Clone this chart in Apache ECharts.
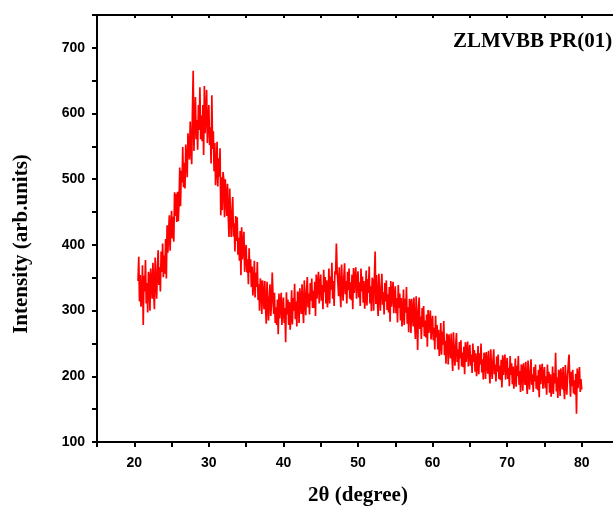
<!DOCTYPE html>
<html>
<head>
<meta charset="utf-8">
<script src="https://cdn.jsdelivr.net/npm/echarts@6/dist/echarts.min.js"></script>
<style>
  html, body { margin: 0; padding: 0; background: #fff; }
  #main { width: 613px; height: 507px; }
</style>
</head>
<body>
<div id="main"></div>
<script>
const chart = echarts.init(document.getElementById('main'))

const sampleName = 'ZLMVBB PR(01)'
const xTitle = '2θ (degree)'
const yTitle = 'Intensity (arb.units)'
// scan: 20.5 .. 80.0 deg, step 0.1 (one row per degree)
const scanStart = 20.5
const scanStep = 0.1
const intensity = [
  345, 382, 314, 354, 306,
  323, 369, 278, 353, 329, 377, 311, 342, 297, 359,
  353, 300, 364, 341, 318, 373, 329, 302, 381, 345,
  318, 363, 392, 339, 366, 329, 390, 359, 402, 351,
  384, 356, 409, 349, 430, 388, 418, 445, 391, 428,
  452, 410, 443, 405, 480, 444, 478, 435, 481, 436,
  466, 518, 459, 513, 495, 549, 488, 525, 486, 553,
  553, 503, 570, 550, 530, 588, 547, 523, 605, 665,
  543, 593, 625, 561, 590, 545, 613, 575, 640, 561,
  597, 558, 613, 537, 642, 570, 600, 636, 555, 590,
  613, 552, 579, 524, 628, 546, 573, 512, 555, 491,
  516, 557, 489, 532, 504, 547, 445, 503, 453, 511,
  500, 442, 500, 472, 444, 493, 444, 412, 486, 444,
  412, 450, 473, 413, 433, 390, 444, 406, 442, 385,
  411, 376, 421, 354, 427, 378, 401, 420, 359, 388,
  400, 358, 378, 340, 395, 358, 378, 336, 367, 323,
  340, 376, 320, 358, 336, 374, 316, 340, 300, 349,
  342, 295, 346, 324, 302, 345, 305, 280, 344, 310,
  285, 319, 340, 292, 311, 358, 324, 295, 327, 281,
  305, 278, 317, 264, 326, 288, 309, 327, 278, 304,
  320, 281, 304, 252, 328, 294, 317, 278, 313, 271,
  292, 331, 279, 319, 300, 341, 287, 314, 276, 329,
  325, 281, 334, 314, 295, 340, 303, 281, 346, 315,
  293, 329, 351, 305, 326, 294, 342, 315, 349, 304,
  330, 304, 344, 292, 355, 318, 340, 359, 311, 338,
  355, 315, 339, 302, 362, 328, 351, 311, 346, 305,
  325, 364, 311, 352, 332, 373, 318, 345, 307, 360,
  355, 402, 362, 342, 322, 366, 328, 305, 370, 338,
  315, 350, 372, 325, 345, 311, 359, 331, 364, 318,
  343, 316, 355, 302, 365, 327, 349, 366, 318, 343,
  360, 320, 343, 307, 364, 329, 352, 312, 345, 303,
  323, 361, 308, 348, 327, 367, 311, 337, 299, 350,
  345, 300, 351, 390, 310, 354, 315, 292, 356, 324,
  300, 335, 356, 309, 328, 294, 342, 314, 346, 301,
  325, 297, 336, 283, 345, 306, 327, 344, 296, 321,
  337, 296, 319, 282, 339, 304, 326, 285, 319, 276,
  295, 332, 278, 318, 297, 336, 280, 305, 267, 318,
  312, 266, 318, 297, 276, 320, 281, 257, 322, 289,
  240, 299, 320, 272, 291, 257, 304, 275, 307, 261,
  285, 259, 294, 245, 301, 266, 285, 300, 256, 278,
  292, 255, 274, 241, 292, 259, 278, 241, 271, 231,
  248, 281, 233, 268, 248, 284, 232, 254, 219, 265,
  260, 218, 264, 246, 227, 265, 230, 208, 267, 237,
  216, 246, 266, 222, 241, 210, 252, 227, 255, 215,
  236, 214, 245, 203, 252, 222, 240, 253, 215, 234,
  248, 216, 233, 205, 250, 222, 240, 207, 235, 200,
  216, 246, 203, 235, 218, 250, 206, 226, 195, 236,
  232, 196, 237, 221, 204, 239, 208, 189, 241, 214,
  196, 224, 241, 203, 218, 192, 230, 207, 233, 196,
  216, 194, 225, 183, 232, 202, 220, 233, 195, 214,
  228, 196, 213, 185, 231, 202, 220, 188, 215, 181,
  197, 227, 184, 216, 200, 231, 187, 208, 176, 218,
  214, 178, 220, 204, 187, 222, 191, 173, 224, 198,
  180, 208, 226, 187, 203, 176, 214, 192, 218, 181,
  201, 179, 210, 168, 218, 188, 206, 219, 181, 200,
  214, 182, 200, 172, 218, 190, 207, 175, 203, 169,
  185, 215, 173, 205, 189, 236, 177, 198, 167, 210,
  206, 170, 212, 196, 180, 214, 183, 165, 217, 191,
  172, 200, 218, 233, 195, 169, 207, 185, 210, 174,
  194, 172, 204, 143, 212, 182, 200, 214, 176, 196,
  180
]

let lineData = intensity.map((v, i) => [+(scanStart + i * scanStep).toFixed(1), v])

let axisLine = { lineStyle: { color: '#000', width: 2 } }
let tickStyle = { lineStyle: { color: '#000', width: 2 } }
let labelStyle = {
  color: '#000',
  fontFamily: 'Liberation Sans',
  fontWeight: 'bold',
  fontSize: 14
}

let option = {
  backgroundColor: '#fff',
  animation: false,
  grid: {
    left: 97,
    top: 15,
    width: 522,
    height: 427,
    outerBoundsMode: 'none',
    containLabel: false
  },
  xAxis: [
    {
      type: 'value',
      min: 15,
      max: 85,
      interval: 5,
      name: xTitle,
      nameLocation: 'middle',
      nameGap: 43,
      nameTextStyle: {
        color: '#000',
        fontFamily: 'Liberation Serif',
        fontWeight: 'bold',
        fontSize: 21
      },
      axisLine: axisLine,
      axisTick: Object.assign({ length: 5 }, tickStyle),
      splitLine: { show: false },
      axisLabel: Object.assign({
        margin: 14,
        formatter: (v) => (v % 10 === 0 ? v : '')
      }, labelStyle)
    },
    {
      type: 'value',
      position: 'top',
      min: 15,
      max: 85,
      interval: 5,
      axisLine: axisLine,
      axisTick: Object.assign({ inside: true, length: 3 }, tickStyle),
      axisLabel: { show: false },
      splitLine: { show: false }
    }
  ],
  yAxis: [
    {
      type: 'value',
      min: 100,
      max: 750,
      interval: 50,
      axisLine: axisLine,
      axisTick: Object.assign({ length: 5 }, tickStyle),
      splitLine: { show: false },
      axisLabel: Object.assign({
        margin: 12,
        formatter: (v) => (v % 100 === 0 ? v : '')
      }, labelStyle)
    }
  ],
  graphic: [
    {
      type: 'text',
      left: 453,
      top: 31,
      style: {
        text: sampleName,
        fill: '#000',
        font: 'bold 21px "Liberation Serif"'
      }
    },
    {
      type: 'text',
      x: 22,
      y: 244,
      rotation: Math.PI / 2,
      style: {
        text: yTitle,
        fill: '#000',
        font: 'bold 21px "Liberation Serif"',
        align: 'center',
        verticalAlign: 'middle'
      }
    }
  ],
  series: [
    {
      type: 'line',
      data: lineData,
      showSymbol: false,
      smooth: false,
      lineStyle: { color: '#ff0000', width: 1.7 }
    }
  ]
}
chart.setOption(option)
</script>
</body>
</html>
